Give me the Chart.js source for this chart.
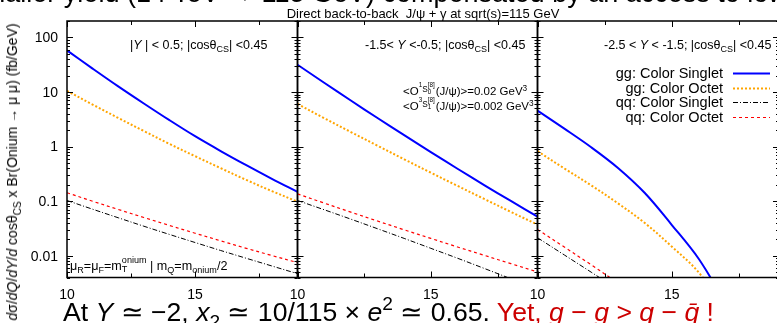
<!DOCTYPE html>
<html>
<head>
<meta charset="utf-8">
<script src="https://cdn.jsdelivr.net/npm/chart.js@4.4.1/dist/chart.umd.min.js"></script>
<style>
  html, body { margin: 0; padding: 0; background: #fff; }
  #wrap { position: relative; width: 777px; height: 323px; overflow: hidden; background: #fff;
          font-family: "Liberation Sans", Arial, sans-serif; color: #000; }
  #wrap canvas { position: absolute; left: 0; top: 0; }
  .t { position: absolute; white-space: nowrap; line-height: 1; }
  sub, sup { font-size: 0.72em; line-height: 0; }
  sub { vertical-align: -0.35em; }
  sup { vertical-align: 0.55em; }
  .ss1 { font-size: 0.55em; vertical-align: 1.3em; }
  .ssS { font-size: 0.72em; vertical-align: 0.45em; }
  .stk { display: inline-block; font-size: 0.55em; line-height: 1; vertical-align: 0.25em; margin-right: 1px; }
  .red { color: #cc0000; }
</style>
</head>
<body>
<div id="wrap">
  <canvas id="panelA" width="782" height="323"></canvas>
  <canvas id="panelB" width="782" height="323"></canvas>
  <canvas id="panelC" width="782" height="323"></canvas>

  <div class="t" id="headline" style="top:-20px;font-size:27px">Smaller yield (14 TeV → 115 GeV) compensated by an access to low <i>x</i></div>
  <div class="t" style="left:423px;top:6.5px;font-size:13px;transform:translateX(-50%)">Direct back-to-back&nbsp; J/ψ + γ at sqrt(s)=115 GeV</div>

  <div class="t" style="left:12px;top:172px;font-size:14px;transform:translate(-50%,-50%) rotate(-90deg)"><i>d</i>σ/<i>dQ</i>/<i>dY</i>/<i>d</i> cosθ<sub>CS</sub> x Br(Onium → μ μ) (fb/GeV)</div>

  <div class="t" style="left:130px;top:39px;font-size:12.5px">|<i>Y</i> | &lt; 0.5; |cosθ<sub>CS</sub>| &lt;0.45</div>
  <div class="t" style="left:365px;top:39px;font-size:12.5px">-1.5&lt; <i>Y</i> &lt;-0.5; |cosθ<sub>CS</sub>| &lt;0.45</div>
  <div class="t" style="left:604px;top:39px;font-size:12.5px">-2.5 &lt; <i>Y</i> &lt; -1.5; |cosθ<sub>CS</sub>| &lt;0.45</div>

  <div class="t" style="left:403px;top:82px;font-size:11.5px">&lt;O<span class="ss1">1</span><span class="ssS">S</span><span class="stk">[8]<br>0</span>(J/ψ)&gt;=0.02 GeV<sup>3</sup></div>
  <div class="t" style="left:403px;top:97px;font-size:11.5px">&lt;O<span class="ss1">3</span><span class="ssS">S</span><span class="stk">[8]<br>1</span>(J/ψ)&gt;=0.002 GeV<sup>3</sup></div>

  <div class="t" style="left:70px;top:256px;font-size:12.6px">μ<sub>R</sub>=μ<sub>F</sub>=m<span style="display:inline-block;font-size:0.72em;line-height:1;vertical-align:-0.2em">onium<br>T</span> | m<sub>Q</sub>=m<sub>onium</sub>/2</div>

  <div class="t" style="left:63px;top:299px;font-size:26.6px">At <i>Y</i> ≃ −2, <i>x</i><sub>2</sub> ≃ 10/115 × <i>e</i><sup>2</sup> ≃ 0.65. <span class="red">Yet, <i>g</i> − <i>g</i> &gt; <i>q</i> − <i>q&#772;</i> !</span></div>
</div>

<script>
// transverse-momentum-like variable on every panel
const X_VALUES = [10, 11, 12, 13, 14, 15, 16, 17, 18, 19];
const X_TICKS = [10, 15];
const X_MINOR_TICKS = [12.5, 17.5];
const Y_TICKS = [0.01, 0.1, 1, 10, 100];
const Y_TICK_LABELS = ['0.01', '0.1', '1', '10', '100'];
const Y_MIN = 0.004;
const Y_MAX = 200;

// |Y| < 0.5
const central_ggCS = [57.8, 26.9, 12.7, 6.17, 3.05, 1.55, 0.83, 0.457, 0.257, 0.148];
const central_ggCO = [10.5, 5.89, 3.35, 1.93, 1.12, 0.668, 0.403, 0.245, 0.153, 0.098];
const central_qqCS = [0.103, 0.0713, 0.0497, 0.0348, 0.0246, 0.0175, 0.0125, 0.0090, 0.0065, 0.0047];
const central_qqCO = [0.143, 0.0998, 0.0706, 0.0502, 0.0360, 0.0259, 0.0188, 0.0137, 0.0101, 0.0075];

// -1.5 < Y < -0.5
const mid_ggCS = [31.6, 14.8, 6.98, 3.34, 1.62, 0.792, 0.393, 0.197, 0.101, 0.052];
const mid_ggCO = [6.04, 3.32, 1.85, 1.04, 0.586, 0.333, 0.191, 0.110, 0.0637, 0.0372];
const mid_qqCS = [0.103, 0.0697, 0.0469, 0.0313, 0.0208, 0.0137, 0.00902, 0.00587, 0.00379, 0.00242];
const mid_qqCO = [0.136, 0.0923, 0.0630, 0.0433, 0.0299, 0.0208, 0.0145, 0.0102, 0.00718, 0.00507];

// -2.5 < Y < -1.5 (curves run out of phase space)
const fwd_ggCS = [4.55, 2.13, 0.973, 0.406, 0.141, 0.037, 0.0089, 0.00138];
const fwd_ggCO = [0.824, 0.398, 0.195, 0.0912, 0.0398, 0.0148, 0.00501, 0.001];
const fwd_qqCS = [0.0214, 0.01035, 0.00501, 0.0024];
const fwd_qqCO = [0.0304, 0.01445, 0.00684, 0.00316];

const STYLES = {
  ggCS: { label: 'gg: Color Singlet', borderColor: '#0000ff', borderWidth: 2, borderDash: [] },
  ggCO: { label: 'gg: Color Octet', borderColor: '#ffa500', borderWidth: 2, borderDash: [2, 2] },
  qqCS: { label: 'qq: Color Singlet', borderColor: '#000000', borderWidth: 1, borderDash: [5, 2, 1, 2] },
  qqCO: { label: 'qq: Color Octet', borderColor: '#ff0000', borderWidth: 1.2, borderDash: [3, 3] }
};

function series(values, style) {
  return Object.assign({}, style, {
    data: values.map((v, i) => ({ x: X_VALUES[i], y: v })),
    pointRadius: 0,
    fill: false,
    tension: 0.35
  });
}

// gnuplot-like frame: inward ticks on all four sides
const frameAndTicks = {
  id: 'frameAndTicks',
  afterDraw(chart, args, opts) {
    const { ctx, chartArea: a, scales: { x, y } } = chart;
    ctx.save();
    ctx.strokeStyle = '#000';
    ctx.lineWidth = 1.5;
    ctx.strokeRect(a.left, a.top, a.right - a.left, a.bottom - a.top);

    ctx.lineWidth = 1;
    ctx.beginPath();
    for (let e = -3; e <= 2; e++) {
      for (let m = 1; m <= 9; m++) {
        const v = m * Math.pow(10, e);
        if (v < Y_MIN * 0.999 || v > Y_MAX * 1.001) continue;
        const py = Math.round(y.getPixelForValue(v)) + 0.5;
        const len = m === 1 ? 6 : 3;
        ctx.moveTo(a.left, py); ctx.lineTo(a.left + len, py);
        ctx.moveTo(a.right, py); ctx.lineTo(a.right - len, py);
      }
    }
    X_TICKS.concat(X_MINOR_TICKS).forEach(v => {
      const px = Math.round(x.getPixelForValue(v)) + 0.5;
      const len = X_TICKS.includes(v) ? 6 : 4;
      ctx.moveTo(px, a.bottom); ctx.lineTo(px, a.bottom - len);
      ctx.moveTo(px, a.top); ctx.lineTo(px, a.top + len);
    });
    ctx.stroke();

    ctx.fillStyle = '#000';
    ctx.font = '14px "Liberation Sans", Arial, sans-serif';
    ctx.textAlign = 'center';
    ctx.textBaseline = 'alphabetic';
    X_TICKS.forEach(v => ctx.fillText(String(v), x.getPixelForValue(v), 299));

    if (opts.yLabels) {
      ctx.textAlign = 'right';
      ctx.textBaseline = 'middle';
      Y_TICKS.forEach((v, i) => ctx.fillText(Y_TICK_LABELS[i], 58, y.getPixelForValue(v) + 1));
    }
    ctx.restore();
  }
};

// key in the last panel: text right-aligned, line sample on the right
const sideKey = {
  id: 'sideKey',
  afterDraw(chart, args, opts) {
    if (!opts.show) return;
    const { ctx } = chart;
    ctx.save();
    ctx.font = '14.5px "Liberation Sans", Arial, sans-serif';
    ctx.textAlign = 'right';
    ctx.textBaseline = 'middle';
    chart.data.datasets.forEach((ds, i) => {
      const yy = 73 + i * 14.7;
      ctx.fillStyle = '#000';
      ctx.fillText(ds.label, 723, yy + 1);
      ctx.strokeStyle = ds.borderColor;
      ctx.lineWidth = ds.borderWidth;
      ctx.setLineDash(ds.borderDash);
      ctx.beginPath();
      ctx.moveTo(733, Math.round(yy) + 0.5);
      ctx.lineTo(770, Math.round(yy) + 0.5);
      ctx.stroke();
    });
    ctx.restore();
  }
};

function makePanel(id, padLeft, padRight, sets, yLabels, key) {
  return new Chart(document.getElementById(id), {
    type: 'line',
    data: { datasets: sets },
    options: {
      responsive: false,
      animation: false,
      devicePixelRatio: 1,
      events: [],
      layout: { padding: { left: padLeft, right: padRight, top: 21, bottom: 45.5 } },
      plugins: {
        legend: { display: false },
        tooltip: { enabled: false },
        frameAndTicks: { yLabels: yLabels },
        sideKey: { show: key }
      },
      scales: {
        x: { type: 'linear', min: 10, max: 19, display: false },
        y: { type: 'logarithmic', min: Y_MIN, max: Y_MAX, display: false }
      }
    },
    plugins: [frameAndTicks, sideKey]
  });
}

makePanel('panelA', 67, 782 - 297.5, [
  series(central_ggCS, STYLES.ggCS),
  series(central_ggCO, STYLES.ggCO),
  series(central_qqCS, STYLES.qqCS),
  series(central_qqCO, STYLES.qqCO)
], true, false);

makePanel('panelB', 297.5, 782 - 537.5, [
  series(mid_ggCS, STYLES.ggCS),
  series(mid_ggCO, STYLES.ggCO),
  series(mid_qqCS, STYLES.qqCS),
  series(mid_qqCO, STYLES.qqCO)
], false, false);

makePanel('panelC', 537.5, 782 - 779, [
  series(fwd_ggCS, STYLES.ggCS),
  series(fwd_ggCO, STYLES.ggCO),
  series(fwd_qqCS, STYLES.qqCS),
  series(fwd_qqCO, STYLES.qqCO)
], false, true);

// slide headline above the plot, mostly out of view
const head = document.getElementById('headline');
const probe = document.createElement('canvas').getContext('2d');
probe.font = '27px "Liberation Sans", Arial, sans-serif';
head.style.left = (383 - probe.measureText('Smaller yield (14 TeV → 115 GeV) ').width) + 'px';
</script>
</body>
</html>
